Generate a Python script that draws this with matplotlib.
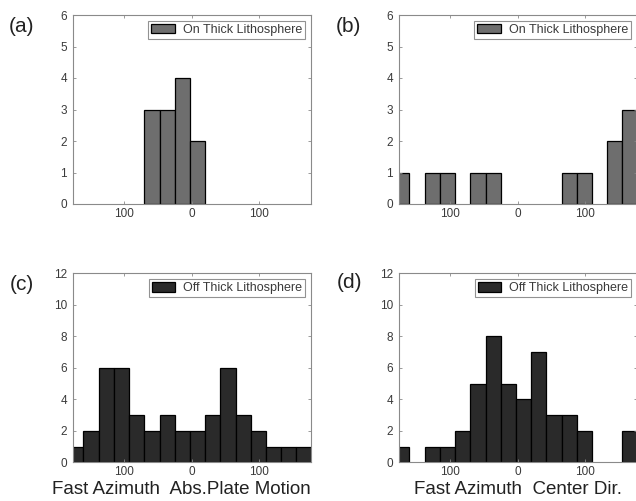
import matplotlib
matplotlib.use('Agg')

import matplotlib.pyplot as plt
import numpy as np

plt.rcParams['font.family'] = ['Liberation Sans', 'DejaVu Sans']

# 16 azimuth-difference bins (deg), shared by all panels
bin_edges = np.linspace(-183.7, 179.0, 17)

counts_a = [0, 0, 0, 0, 0, 3, 3, 4, 2, 0, 0, 0, 0, 0, 0, 0]
counts_b = [1, 0, 1, 1, 0, 1, 1, 0, 0, 0, 0, 1, 1, 0, 2, 3]
counts_c = [1, 2, 6, 6, 3, 2, 3, 2, 2, 3, 6, 3, 2, 1, 1, 1]
counts_d = [1, 0, 1, 1, 2, 5, 8, 5, 4, 7, 3, 3, 2, 0, 0, 2]

x_ticks = [-100, 0, 100]
x_tick_labels = ['100', '0', '100']

on_label = 'On Thick Lithosphere'
off_label = 'Off Thick Lithosphere'
xlabel_c = 'Fast Azimuth  Abs.Plate Motion'
xlabel_d = 'Fast Azimuth  Center Dir.'

on_color = '#6e6e6e'
off_color = '#2a2a2a'
spine_color = '#8a8a8a'
text_color = '#3a3a3a'

fig = plt.figure(figsize=(6.36, 5.01), dpi=100)

W, H = 636.0, 501.0
panels = [
    # (left px, top px, counts, color, legend, ymax, ystep, tag, tag x, tag y, xlabel, label x)
    (72.7, 15.0, counts_a, on_color, on_label, 6, 1, '(a)', 22, 26, None, None),
    (398.7, 15.0, counts_b, on_color, on_label, 6, 1, '(b)', 348, 27, None, None),
    (72.7, 273.3, counts_c, off_color, off_label, 12, 2, '(c)', 22, 284, xlabel_c, 0.457),
    (398.7, 273.3, counts_d, off_color, off_label, 12, 2, '(d)', 350, 282, xlabel_d, 0.503),
]

for left, top, counts, color, leg, ymax, ystep, tag, tx, ty, xlab, lx in panels:
    ax = fig.add_axes([left / W, 1 - (top + 189) / H, 238 / W, 189 / H])
    counts = np.array(counts)
    lefts = bin_edges[:-1]
    widths = np.diff(bin_edges)
    keep = counts > 0
    ax.bar(lefts[keep], counts[keep], width=widths[keep], align='edge',
           color=color, edgecolor='black', linewidth=0.9, label=leg)
    ax.set_xlim(-177, 177.5)
    ax.set_ylim(0, ymax)
    ax.set_yticks(np.arange(0, ymax + 1, ystep))
    ax.set_xticks(x_ticks)
    ax.set_xticklabels(x_tick_labels)
    ax.tick_params(direction='in', length=2.5, width=0.6, color=spine_color,
                   labelsize=8.5, labelcolor=text_color,
                   top=True, right=True, pad=3)
    ax.tick_params(axis='y', pad=4)
    for s in ax.spines.values():
        s.set_color(spine_color)
        s.set_linewidth(0.8)
    lg = ax.legend(loc='upper right', fontsize=9, frameon=True, fancybox=False,
                   borderaxespad=0.45, handlelength=1.9, handleheight=0.8,
                   handletextpad=0.6, borderpad=0.25)
    lg.get_frame().set_edgecolor('#777777')
    lg.get_frame().set_linewidth(0.8)
    for t in lg.get_texts():
        t.set_color(text_color)
    fig.text(tx / W, 1 - ty / H, tag, fontsize=15, ha='center', va='center',
             color='#222222')
    if xlab:
        ax.set_xlabel(xlab, fontsize=13.5, color='#222222')
        ax.xaxis.set_label_coords(lx, -0.1)

fig.savefig('out.png', dpi=100)
plt.close(fig)
